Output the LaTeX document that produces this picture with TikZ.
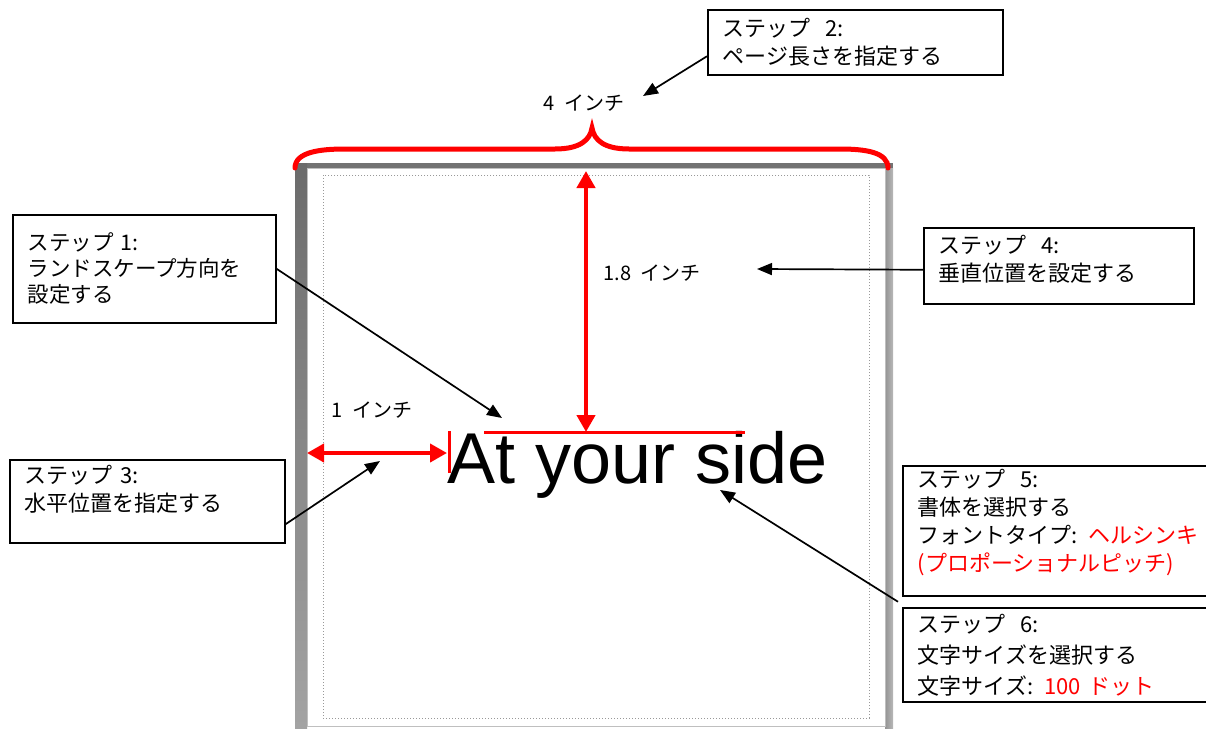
\documentclass[tikz,border=0pt]{standalone}
\usepackage{fontspec}
\setmainfont{Liberation Sans}
\newfontfamily\jpfont{Noto Sans CJK JP}
\usetikzlibrary{arrows.meta,calc}

\tikzset{
	stepbox/.style={draw=black, line width=1.5pt, fill=white, anchor=north west, align=left,
		inner xsep=15pt, inner ysep=3pt, font=\jpfont\fontsize{22}{28}\selectfont},
	ptr/.style={-{Triangle[length=15pt,width=12pt]}, line width=1.7pt},
	redarr/.style={red, line width=4.5pt, {Triangle[length=17pt,width=18pt]}-{Triangle[length=17pt,width=18pt]}},
	dimlabel/.style={inner sep=0pt, font=\jpfont\fontsize{20}{24}\selectfont},
}

\begin{document}
\begin{tikzpicture}[x=1pt,y=-1pt]
		\useasboundingbox (0,0) rectangle (1206,728);
		% page
		\fill[black!55] (295,163) rectangle (893,168);
		\shade[top color=black!58, bottom color=black!36] (295,163) rectangle (307,728);
		\shade[left color=black!42, right color=black!28] (885,168) rectangle (893,728);
		\draw[black!25, line width=1pt] (307,168) rectangle (885,726);
		\draw[black!40, dotted, line width=1pt] (323,175) rectangle (869,718);
		
		% brace
		\draw[red, line width=5pt, line cap=round] (295,168) .. controls (295,152) and (320,149) .. (345,149) -- (555,149)
			.. controls (580,149) and (590,140) .. (592,128) .. controls (594,140) and (604,149) .. (629,149)
			-- (840,149) .. controls (865,149) and (888,152) .. (888,168);
		
		% text
		\node[anchor=base west, inner sep=0pt, font=\fontsize{72}{80}\selectfont] (title) at (447,483) {At your side};
		\draw[red, line width=3pt] (484,432) -- (745,432);
		\draw[red, line width=3pt] (449,431) -- (449,473);
		
		% dimensions
		\coordinate (vtop) at (586,171);
		\coordinate (vbot) at (586,432);
		\draw[redarr] (vtop) -- (vbot);
		\coordinate (hleft) at (307,453);
		\coordinate (hright) at (447,453);
		\draw[redarr, line width=4pt] (hleft) -- (hright);
		\node[dimlabel] (w4) at (584,103) {4\ \ インチ};
		\node[dimlabel] (h18) at (652,273) {1.8\ \ インチ};
		\node[dimlabel] (h1) at (372,410) {1\ \ インチ};
		
		% steps
		\node[stepbox, minimum width=263pt, minimum height=108pt, text width=233pt, font=\jpfont\fontsize{21.5}{26}\selectfont] (s1) at (12,214)
			{ステップ 1:\\ランドスケープ方向を\\設定する};
		\node[stepbox, minimum width=295pt, minimum height=65pt, text width=265pt] (s2) at (707,9)
			{ステップ\ \ 2:\\ページ長さを指定する};
		\node[stepbox, minimum width=275pt, minimum height=83pt, text width=245pt, text depth=53pt] (s3) at (9,459)
			{ステップ 3:\\水平位置を指定する};
		\node[stepbox, minimum width=270pt, minimum height=76pt, text width=240pt, text depth=43pt] (s4) at (923,227)
			{ステップ\ \ 4:\\垂直位置を設定する};
		\node[stepbox, minimum width=320pt, minimum height=130pt, text width=290pt, text depth=104pt] (s5) at (902,465)
			{ステップ\ \ 5:\\書体を選択する\\フォントタイプ: \textcolor{red}{ヘルシンキ}\\\textcolor{red}{(プロポーショナルピッチ)}};
		\node[stepbox, minimum width=320pt, minimum height=94pt, text width=290pt, font=\jpfont\fontsize{22}{31}\selectfont] (s6) at (902,607)
			{ステップ\ \ 6:\\文字サイズを選択する\\文字サイズ: \textcolor{red}{100 ドット}};
		
		% pointers
		\coordinate (t1) at (502,418);
		\coordinate (t2) at (643,96);
		\coordinate (t3) at (380,461);
		\coordinate (t4) at (757,269);
		\coordinate (t5) at (720,490);
		\draw[ptr] (s1.east) -- (t1);
		\draw[ptr] ([yshift=-14pt]s2.west) -- (t2);
		\draw[ptr] ([yshift=-23pt]s3.east) -- (t3);
		\draw[ptr] ([yshift=-4pt]s4.west) -- (t4);
		\draw[ptr] ([xshift=-4pt]$(s5.south west)!0.5!(s6.north west)$) -- (t5);
\end{tikzpicture}
\end{document}
